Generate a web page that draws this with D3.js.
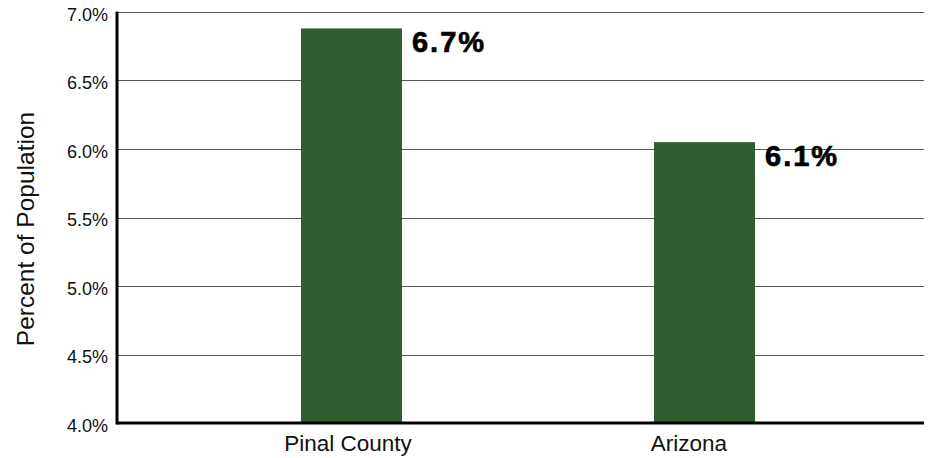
<!DOCTYPE html>
<html>
<head>
<meta charset="utf-8">
<script src="https://cdn.jsdelivr.net/npm/d3@7"></script>
<style>
  html, body { margin: 0; padding: 0; background: #fff; }
  svg { display: block; font-family: "Liberation Sans", Arial, sans-serif; }
</style>
</head>
<body>
<svg id="chart" width="928" height="458"></svg>
<script>
const categories = ["Pinal County", "Arizona"];
const barValues = [6.88, 6.05];
const valueLabels = ["6.7%", "6.1%"];
const yTicks = [4.0, 4.5, 5.0, 5.5, 6.0, 6.5, 7.0];
const yTitle = "Percent of Population";

const svg = d3.select("#chart");
const mLeft = 117, mRight = 924, mTop = 12, mBottom = 423;

const y = d3.scaleLinear().domain([4.0, 7.0]).range([mBottom, mTop]);
const x = d3.scaleBand().domain(categories).range([301, 755]).paddingInner(0.714).paddingOuter(0);
const xLabel = d3.scalePoint().domain(categories).range([348, 689]);

// gridlines
svg.append("g").selectAll("line").data(yTicks.filter(t => t > 4.0)).join("line")
  .attr("x1", mLeft).attr("x2", mRight)
  .attr("y1", d => Math.round(y(d)) + 0.5).attr("y2", d => Math.round(y(d)) + 0.5)
  .attr("stroke", "#555").attr("stroke-width", 1);

// y tick labels
const yAxis = d3.axisLeft(y).tickValues(yTicks).tickFormat(d => d.toFixed(1) + "%").tickSize(0).tickPadding(9);
const gy = svg.append("g").attr("transform", `translate(${mLeft},0)`).call(yAxis);
gy.select(".domain").remove();
gy.selectAll("text").attr("font-size", 18).attr("fill", "#111").attr("dy", "0.45em")
  .attr("font-family", "Liberation Sans, Arial, sans-serif");

// bars
svg.append("g").selectAll("rect").data(categories).join("rect")
  .attr("x", d => x(d)).attr("width", x.bandwidth())
  .attr("y", (d, i) => y(barValues[i]))
  .attr("height", (d, i) => y(4.0) - y(barValues[i]))
  .attr("fill", "#305e30");

// value labels
svg.append("g").selectAll("text").data(categories).join("text")
  .attr("x", d => x(d) + x.bandwidth() + 10)
  .attr("y", (d, i) => y(barValues[i]) + 24)
  .attr("font-size", 29).attr("font-weight", "bold").attr("letter-spacing", 2)
  .attr("fill", "#000").attr("stroke", "#000").attr("stroke-width", 0.7)
  .text((d, i) => valueLabels[i]);

// axes lines
svg.append("line").attr("x1", mLeft).attr("x2", mLeft).attr("y1", mTop - 0.5).attr("y2", mBottom + 1.5)
  .attr("stroke", "#000").attr("stroke-width", 3);
svg.append("line").attr("x1", mLeft).attr("x2", mRight).attr("y1", mBottom).attr("y2", mBottom)
  .attr("stroke", "#000").attr("stroke-width", 3);

// category labels
svg.append("g").selectAll("text").data(categories).join("text")
  .attr("x", d => xLabel(d)).attr("y", 451)
  .attr("text-anchor", "middle").attr("font-size", 22.5).attr("fill", "#111")
  .text(d => d);

// y title
svg.append("text")
  .attr("transform", "translate(34,229) rotate(-90)")
  .attr("text-anchor", "middle").attr("font-size", 24.5).attr("fill", "#111")
  .text(yTitle);
</script>
</body>
</html>
